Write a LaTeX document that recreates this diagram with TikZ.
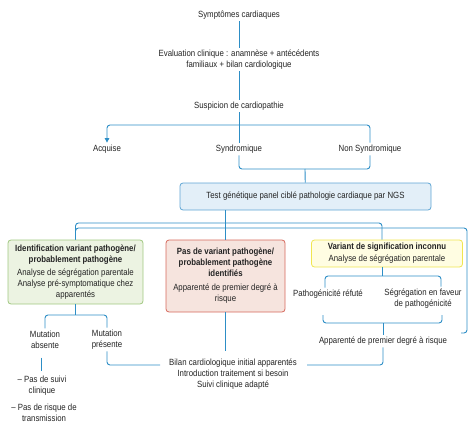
\documentclass[tikz,border=0pt]{standalone}
\usepackage{fontspec}
\setmainfont{Liberation Sans}[FakeStretch=0.87]
\usepackage{xcolor}
\usetikzlibrary{arrows.meta,positioning}
\definecolor{linkblue}{RGB}{45,142,198}
\definecolor{textgray}{RGB}{35,35,35}
\definecolor{ngsfill}{RGB}{227,239,248}
\definecolor{ngsdraw}{RGB}{95,165,212}
\definecolor{pathofill}{RGB}{236,243,226}
\definecolor{pathodraw}{RGB}{160,200,128}
\definecolor{nonefill}{RGB}{246,228,222}
\definecolor{nonedraw}{RGB}{214,104,92}
\definecolor{vusfill}{RGB}{255,253,226}
\definecolor{vusdraw}{RGB}{240,230,80}

\begin{document}
\begin{tikzpicture}[
    x=1pt, y=-1pt,
    every node/.style={align=center, text=textgray, inner sep=2pt, font=\fontsize{9}{11}\selectfont},
    link/.style={draw=linkblue, line width=0.9pt, rounded corners=3pt},
    arrow/.style={link, -{Triangle[width=4.5pt,length=4.5pt]}},
    resultbox/.style={rectangle, rounded corners=3pt, line width=0.8pt, inner sep=3pt},
    ngsbox/.style={resultbox, draw=ngsdraw, fill=ngsfill, minimum width=251pt, minimum height=27pt},
    pathobox/.style={resultbox, draw=pathodraw, fill=pathofill, minimum width=135pt, minimum height=64pt},
    nonebox/.style={resultbox, draw=nonedraw, fill=nonefill, minimum width=119pt, minimum height=72pt},
    vusbox/.style={resultbox, draw=vusdraw, fill=vusfill, minimum width=151pt, minimum height=27pt}
]
\useasboundingbox (0,0) rectangle (474,433);

% Clinical work-up
\node (sympt) at (239,15) {Symptômes cardiaques};
\node (eval) at (239,59.5) {Evaluation clinique : anamnèse + antécédents\\familiaux + bilan cardiologique};
\node (susp) at (239,106) {Suspicion de cardiopathie};
\node (acq) at (107,149) {Acquise};
\node (synd) at (239,149) {Syndromique};
\node (nonsyn) at (370,149) {Non Syndromique};

% Genetic test
\node[ngsbox] (ngs) at (305.5,196.5) {Test génétique panel ciblé pathologie cardiaque par NGS};

% Test results
\node[pathobox] (patho) at (75.5,272) {\textbf{Identification variant pathogène/}\\\textbf{probablement pathogène}\\[2pt]Analyse de ségrégation parentale\\Analyse pré-symptomatique chez\\apparentés};
\node[nonebox] (none) at (225.5,276) {\textbf{Pas de variant pathogène/}\\\textbf{probablement pathogène}\\\textbf{identifiés}\\[3pt]Apparenté de premier degré à\\risque};
\node[vusbox] (vus) at (387,253.5) {\textbf{Variant de signification inconnu}\\[1pt]Analyse de ségrégation parentale};

% Follow-up
\node (refute) at (328,294) {Pathogénicité réfuté};
\node (faveur) at (423,298.5) {Ségrégation en faveur\\de pathogénicité};
\node (apparente) at (383,341) {Apparenté de premier degré à risque};
\node (muta) at (45,339.5) {Mutation\\absente};
\node (mutp) at (107,339.5) {Mutation\\présente};
\node (bilan) at (233,374) {Bilan cardiologique initial apparentés\\Introduction traitement si besoin\\Suivi clinique adapté};
\node (suivi) at (42,386) {-- Pas de suivi\\clinique};
\node (risque) at (44,413) {-- Pas de risque de\\transmission};

% Junctions
\coordinate (split) at (239,125);
\coordinate (join) at (305,169);
\coordinate (busA) at (226,223);
\coordinate (busB) at (467,228);
\coordinate (hook) at (461,333);
\coordinate (vusA) at (382,276);
\coordinate (brL) at (323,315);
\coordinate (brR) at (442,315);
\coordinate (vusB) at (383,323);
\coordinate (mutsplit) at (75.5,315);
\coordinate (bilanL) at (160,365);
\coordinate (bilanR) at (307,365);

% Connections
\draw[link] (sympt) -- (eval);
\draw[link] (eval) -- (susp);
\draw[link] (susp) -- (synd);
\draw[arrow] (nonsyn) |- (split) -| (acq);
\draw[link] (synd) |- (join) -| (nonsyn);
\draw[link] (join) -- (ngs);

\draw[link] (ngs.south -| none.north) -- (none);
\draw[link] (patho) |- (busA) -| ([xshift=-5pt]vus.north);
\draw[link] (patho) |- (busB) |- (hook);

\draw[link] ([xshift=-5pt]vus.south) -- (vusA);
\draw[link] ([xshift=-3pt]refute.north) |- (vusA) -| ([xshift=18pt]faveur.north);
\draw[link] (brL) |- (vusB) -| (brR);
\draw[link] (vusB) -- (apparente);
\draw[link] (apparente) |- (bilanR);

\draw[link] (patho) -- (mutsplit);
\draw[link] (muta) |- (mutsplit) -| (mutp);
\draw[link] (mutp) |- (bilanL);
\draw[link] (none) -- ([yshift=6pt]none |- bilan.north);
\draw[link, shorten <=7pt, shorten >=3pt] ([xshift=-4pt]muta.south) -- ([xshift=-1pt]suivi.north);

\end{tikzpicture}
\end{document}
